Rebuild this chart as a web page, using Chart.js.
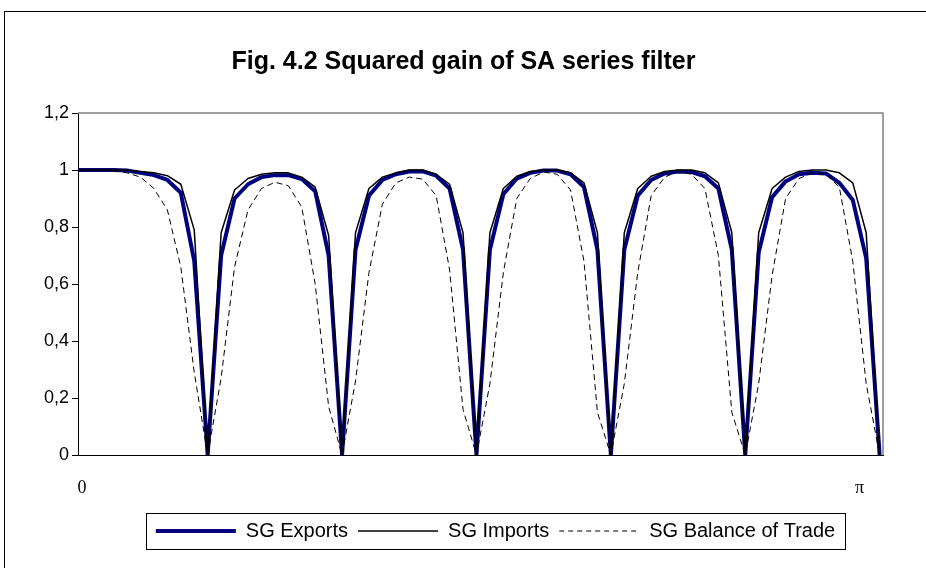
<!DOCTYPE html>
<html>
<head>
<meta charset="utf-8">
<script src="https://cdn.jsdelivr.net/npm/chart.js@4.4.1/dist/chart.umd.min.js"></script>
<style>
  html, body { margin: 0; padding: 0; background: #fff; }
  #frame { position: absolute; left: 4px; top: 11px; width: 1000px; height: 600px; border: 1px solid #000; }
  #sqGain { position: absolute; left: 0; top: 0; }
</style>
</head>
<body>
<div id="frame"></div>
<canvas id="sqGain" width="926" height="568"></canvas>
<script>
// frequency grid, step = pi/60
const freqSteps = [0, 1, 2, 3, 4, 5, 6, 7, 8, 9, 10, 11, 12, 13, 14, 15, 16, 17, 18, 19, 20,
  21, 22, 23, 24, 25, 26, 27, 28, 29, 30, 31, 32, 33, 34, 35, 36, 37, 38, 39, 40,
  41, 42, 43, 44, 45, 46, 47, 48, 49, 50, 51, 52, 53, 54, 55, 56, 57, 58, 59, 60];

const exportsGain = [1, 1, 1, 1, 0.998, 0.99, 0.982, 0.965, 0.92, 0.68, 0,
  0.7, 0.9, 0.95, 0.975, 0.982, 0.982, 0.968, 0.925, 0.7, 0,
  0.72, 0.91, 0.965, 0.985, 0.995, 0.995, 0.98, 0.935, 0.72, 0,
  0.72, 0.915, 0.97, 0.99, 0.998, 0.998, 0.985, 0.94, 0.72, 0,
  0.72, 0.91, 0.965, 0.988, 0.995, 0.993, 0.978, 0.935, 0.72, 0,
  0.71, 0.905, 0.96, 0.985, 0.99, 0.988, 0.955, 0.895, 0.69, 0];

const importsGain = [1, 1, 1, 1, 1, 0.995, 0.99, 0.98, 0.95, 0.79, 0,
  0.78, 0.93, 0.97, 0.985, 0.99, 0.99, 0.975, 0.94, 0.77, 0,
  0.78, 0.935, 0.975, 0.99, 1, 1, 0.985, 0.95, 0.78, 0,
  0.78, 0.935, 0.978, 0.995, 1, 1, 0.99, 0.955, 0.78, 0,
  0.78, 0.935, 0.978, 0.995, 1, 1, 0.99, 0.955, 0.78, 0,
  0.78, 0.935, 0.975, 0.995, 1, 1, 0.99, 0.955, 0.78, 0];

const balanceGain = [1, 1, 1, 0.997, 0.99, 0.975, 0.935, 0.86, 0.66, 0.29, 0,
  0.27, 0.66, 0.86, 0.935, 0.957, 0.945, 0.87, 0.6, 0.17, 0,
  0.26, 0.64, 0.88, 0.955, 0.975, 0.968, 0.91, 0.65, 0.16, 0,
  0.25, 0.64, 0.9, 0.97, 0.993, 0.985, 0.93, 0.68, 0.15, 0,
  0.25, 0.64, 0.91, 0.975, 0.995, 0.985, 0.935, 0.7, 0.15, 0,
  0.25, 0.63, 0.9, 0.97, 0.99, 0.985, 0.94, 0.68, 0.25, 0];

const seriesNames = ['SG Exports', 'SG Imports', 'SG Balance of Trade'];
const yTickLabels = ['0', '0,2', '0,4', '0,6', '0,8', '1', '1,2'];
const xTickSteps = [0.65, 58.5];
const xTickLabels = ['0', 'π'];

const SANS = '"Liberation Sans", Arial, sans-serif';
const SERIF = '"Liberation Serif", "Times New Roman", serif';

// grey plot-area edge on top/right, Excel style
const plotFrame = {
  id: 'plotFrame',
  beforeDatasetsDraw(chart) {
    const { ctx, chartArea: a } = chart;
    ctx.save();
    ctx.strokeStyle = '#808080';
    ctx.lineWidth = 1.5;
    ctx.beginPath();
    ctx.moveTo(a.left, a.top);
    ctx.lineTo(a.right, a.top);
    ctx.lineTo(a.right, a.bottom);
    ctx.stroke();
    ctx.restore();
  }
};

// centre title on the page, nudge legend right and box it
const blockShift = {
  id: 'blockShift',
  afterLayout(chart) {
    chart.titleBlock.left += 22;
    chart.titleBlock.right += 22;
    chart.legend.left += 54;
    chart.legend.right += 54;
  },
  afterDraw(chart) {
    const boxes = chart.legend.legendHitBoxes;
    if (!boxes || !boxes.length) return;
    const first = boxes[0], last = boxes[boxes.length - 1];
    const cy = first.top + first.height / 2;
    const ctx = chart.ctx;
    ctx.save();
    ctx.strokeStyle = '#000';
    ctx.lineWidth = 1;
    ctx.strokeRect(Math.round(first.left - 10) + 0.5, Math.round(cy - 18) + 0.5,
      Math.round(last.left + last.width - first.left + 20), 36);
    ctx.restore();
  }
};

new Chart(document.getElementById('sqGain'), {
  type: 'line',
  data: {
    labels: freqSteps,
    datasets: [
      { label: seriesNames[0], data: exportsGain, borderColor: '#000080', borderWidth: 4, order: 2 },
      { label: seriesNames[1], data: importsGain, borderColor: '#000', borderWidth: 1.5, order: 1 },
      { label: seriesNames[2], data: balanceGain, borderColor: '#000', borderWidth: 1, borderDash: [6, 4], order: 0 }
    ]
  },
  options: {
    responsive: false,
    animation: false,
    devicePixelRatio: 1,
    layout: { padding: { left: 0, right: 43, top: 0, bottom: 17 } },
    elements: {
      point: { radius: 0 },
      line: { tension: 0, fill: false, borderJoinStyle: 'round' }
    },
    scales: {
      x: {
        type: 'linear',
        min: 0.35,
        max: 60.25,
        afterBuildTicks: (scale) => { scale.ticks = xTickSteps.map(v => ({ value: v })); },
        afterFit: (scale) => { scale.height = 56; },
        grid: { drawOnChartArea: false, drawTicks: false },
        border: { color: '#000', width: 1 },
        ticks: {
          autoSkip: false,
          maxRotation: 0,
          padding: 22,
          color: '#000',
          font: { family: SERIF, size: 18 },
          callback: (v, i) => xTickLabels[i]
        }
      },
      y: {
        min: 0,
        max: 1.2,
        afterFit: (scale) => { scale.width = 78; },
        grid: { drawOnChartArea: false, drawTicks: true, tickLength: 6, color: '#000' },
        border: { color: '#000', width: 1 },
        ticks: {
          stepSize: 0.2,
          padding: 3,
          color: '#000',
          font: { family: SANS, size: 18 },
          callback: (v, i) => yTickLabels[i]
        }
      }
    },
    plugins: {
      title: {
        display: true,
        text: 'Fig. 4.2 Squared gain of SA series filter',
        color: '#000',
        font: { family: SANS, size: 25, weight: 'bold' },
        padding: { top: 47, bottom: 36 }
      },
      legend: {
        position: 'bottom',
        labels: {
          usePointStyle: true,
          pointStyle: 'line',
          pointStyleWidth: 80,
          padding: 10,
          color: '#000',
          font: { family: SANS, size: 20 },
          sort: (a, b) => a.datasetIndex - b.datasetIndex,
          generateLabels: (chart) => {
            const items = Chart.defaults.plugins.legend.labels.generateLabels(chart);
            items.forEach(item => {
              const ds = chart.data.datasets[item.datasetIndex];
              item.lineDash = ds.borderDash ? [5, 4] : [];
              item.strokeStyle = ds.borderColor;
              item.lineWidth = ds.borderWidth;
            });
            return items;
          }
        }
      },
      tooltip: { enabled: false }
    }
  },
  plugins: [plotFrame, blockShift]
});
</script>
</body>
</html>
